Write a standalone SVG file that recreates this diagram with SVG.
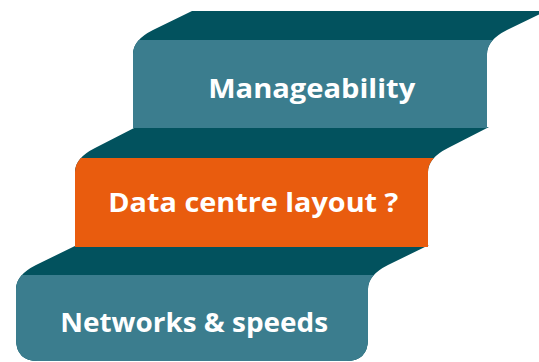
<svg xmlns="http://www.w3.org/2000/svg" width="539" height="362" viewBox="0 0 539 362">
  <style>
    .band { fill: #02525E; }
    .teal { fill: #3B7D8E; }
    .orange { fill: #E95C0E; }
    .label { font-family: "Open Sans", "Liberation Sans", sans-serif; font-weight: 700; font-size: 27px; fill: #FFFFFF; text-anchor: middle; }
  </style>
  <defs>
    <path id="shape-net" d="M77,245 L429,245 L388,265 Q368,275 368,289 L368,339 Q368,361 346,361 L38,361 Q16,361 16,339 L16,289 Q16,275 36,265 Z"/>
    <path id="shape-lay" d="M136,127 L489,127 L448,148 Q428,158 428,172 L428,247 L75,247 L75,172 Q75,158 95,148 Z"/>
    <path id="shape-man" d="M192,11 L546,11 L507,30 Q487,40 487,54 L487,128 L133,128 L133,54 Q133,40 153,30 Z"/>
    <clipPath id="clip-net"><rect x="0" y="275" width="539" height="100"/></clipPath>
    <clipPath id="clip-lay"><rect x="0" y="158" width="539" height="100"/></clipPath>
    <clipPath id="clip-man"><rect x="0" y="40" width="539" height="100"/></clipPath>
  </defs>
  <rect width="539" height="362" fill="#FFFFFF"/>
  <g id="step-networks">
    <use href="#shape-net" class="band"/>
    <use href="#shape-net" class="teal" clip-path="url(#clip-net)"/>
    <text class="label" x="194.2" y="331.7" textLength="268" lengthAdjust="spacingAndGlyphs">Networks &amp; speeds</text>
  </g>
  <g id="step-layout">
    <use href="#shape-lay" class="band"/>
    <use href="#shape-lay" class="orange" clip-path="url(#clip-lay)"/>
    <text class="label" x="253.3" y="211.7" textLength="290" lengthAdjust="spacingAndGlyphs">Data centre layout ?</text>
  </g>
  <g id="step-manageability">
    <use href="#shape-man" class="band"/>
    <use href="#shape-man" class="teal" clip-path="url(#clip-man)"/>
    <text class="label" x="311.7" y="97.5" textLength="207" lengthAdjust="spacingAndGlyphs">Manageability</text>
  </g>
  <g id="connectors"/>
</svg>
